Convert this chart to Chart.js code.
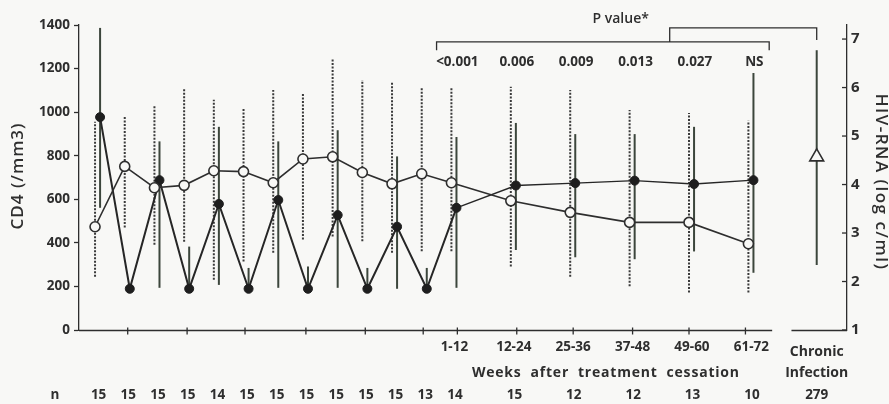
<!DOCTYPE html>
<html>
<head>
<meta charset="utf-8">
<script src="https://cdn.jsdelivr.net/npm/chart.js@4"></script>
<style>
  html, body { margin:0; padding:0; background:#f8f8f6; }
  #wrap { width:889px; height:404px; position:relative; }
</style>
</head>
<body>
<div id="wrap"><canvas id="chart" width="889" height="404"></canvas></div>
<script>
// visit index: 12 interruption cycles, then 6 post-cessation groups
const visits = [0,1,2,3,4,5,6,7,8,9,10,11,12,14,16,18,20,22];
const cd4Mean = [474,751,653,664,731,727,676,785,795,723,671,717,676,593,540,494,494,396];
const cd4Lo   = [245,470,391,405,231,314,355,415,429,407,355,361,361,292,245,201,172,172];
const cd4Hi   = [956,978,1029,1111,1057,1015,1102,1090,1249,1148,1140,1117,1117,1117,1102,1010,996,960];
const rnaMean = [5.39,1.85,4.09,1.85,3.60,1.85,3.68,1.85,3.37,1.85,3.13,1.85,3.52,3.98,4.03,4.08,4.01,4.09];
const rnaLo   = [3.52,1.85,1.87,1.85,1.93,1.85,1.87,1.85,1.87,1.85,1.85,1.85,1.87,2.65,2.50,2.46,2.62,2.18];
const rnaHi   = [7.23,1.85,4.89,2.72,5.19,2.28,4.89,2.31,5.12,2.28,4.58,2.28,4.98,5.27,5.04,5.04,5.19,6.30];
const chronicVisit = 24.3;
const chronicRna = [4.57, 2.34, 6.77]; // mean, lo, hi
const nCounts = [15,15,15,15,14,15,15,15,15,15,15,13,14,15,12,12,13,10];
const chronicN = 279;
const groupLabels = ['1-12','12-24','25-36','37-48','49-60','61-72'];
const pValues = ['<0.001','0.006','0.009','0.013','0.027','NS'];
const xTicks = [1.1,3.1,5.05,7.1,9.1,11.05,12.2,14.2,16.1,18.1,20,21.9];
const cd4Ticks = [0,200,400,600,800,1000,1200,1400];
const rnaTicks = [1,2,3,4,5,6,7];
const rnaShift = 0.17;

const ink = '#2e2e2e';
const FONT = '"Open Sans", "DejaVu Sans", sans-serif';

const extras = {
  id: 'extras',
  beforeDatasetsDraw(chart){
    const {ctx, scales:{x, y, y2}} = chart;
    ctx.save();
    // CD4 error bars (dashed)
    ctx.strokeStyle = '#3a3a3a'; ctx.lineWidth = 2; ctx.setLineDash([2,1.5]);
    visits.forEach((v,i) => {
      const px = x.getPixelForValue(v);
      ctx.beginPath(); ctx.moveTo(px, y.getPixelForValue(cd4Lo[i])); ctx.lineTo(px, y.getPixelForValue(cd4Hi[i])); ctx.stroke();
    });
    // HIV-RNA error bars (solid)
    ctx.setLineDash([]); ctx.strokeStyle = '#3c463c'; ctx.lineWidth = 2;
    visits.forEach((v,i) => {
      if (rnaHi[i] - rnaLo[i] < 0.05) return;
      const px = x.getPixelForValue(v + rnaShift);
      ctx.beginPath(); ctx.moveTo(px, y2.getPixelForValue(rnaLo[i])); ctx.lineTo(px, y2.getPixelForValue(rnaHi[i])); ctx.stroke();
    });
    const cx = x.getPixelForValue(chronicVisit);
    ctx.beginPath(); ctx.moveTo(cx, y2.getPixelForValue(chronicRna[1])); ctx.lineTo(cx, y2.getPixelForValue(chronicRna[2])); ctx.stroke();
    ctx.restore();
  },
  afterDraw(chart){
    const {ctx, chartArea:a, scales:{x, y, y2}} = chart;
    const cx = x.getPixelForValue(chronicVisit);
    ctx.save();
    ctx.strokeStyle = ink; ctx.lineWidth = 1.3;
    // broken x baseline
    const b = a.bottom + 0.5;
    ctx.beginPath();
    ctx.moveTo(a.left, b); ctx.lineTo(x.getPixelForValue(22.8), b);
    ctx.moveTo(x.getPixelForValue(23.45), b); ctx.lineTo(a.right, b);
    ctx.stroke();
    xTicks.forEach(t => {
      const px = x.getPixelForValue(t);
      ctx.beginPath(); ctx.moveTo(px, b - 3); ctx.lineTo(px, b + 4); ctx.stroke();
    });
    // right axis inward ticks
    rnaTicks.forEach(t => {
      const py = y2.getPixelForValue(t);
      ctx.beginPath(); ctx.moveTo(a.right - 5, py); ctx.lineTo(a.right, py); ctx.stroke();
    });
    // p-value brackets
    const yLow = y2.getPixelForValue(6.94), yTip = y2.getPixelForValue(6.77), yTop = y2.getPixelForValue(7.23);
    const bl = x.getPixelForValue(11.5), br = x.getPixelForValue(22.7), bm = x.getPixelForValue(19.35);
    ctx.beginPath();
    ctx.moveTo(bl, yTip); ctx.lineTo(bl, yLow); ctx.lineTo(br, yLow); ctx.lineTo(br, yTip);
    ctx.moveTo(bm, yLow); ctx.lineTo(bm, yTop); ctx.lineTo(cx, yTop); ctx.lineTo(cx, y2.getPixelForValue(6.98));
    ctx.stroke();

    ctx.fillStyle = ink; ctx.textAlign = 'center'; ctx.textBaseline = 'middle';
    ctx.font = '600 14px ' + FONT;
    ctx.fillText('P value*', x.getPixelForValue(17.7), 19);
    ctx.font = 'bold 13.5px ' + FONT;
    pValues.forEach((p,i) => ctx.fillText(p, x.getPixelForValue(visits[12+i] + 0.2), 62));
    groupLabels.forEach((g,i) => ctx.fillText(g, x.getPixelForValue(visits[12+i] + 0.1), 347));
    ctx.font = 'bold 14px ' + FONT;
    ctx.fillText('Chronic', cx, 352);
    ctx.fillText('Infection', cx, 373);
    ctx.letterSpacing = '0.8px';
    ctx.fillText('Weeks  after  treatment  cessation', x.getPixelForValue(17.2), 373);
    ctx.letterSpacing = '0px';
    ctx.font = 'bold 13.5px ' + FONT;
    ctx.fillText('n', 55, 395);
    nCounts.forEach((n,i) => ctx.fillText(String(n), x.getPixelForValue(visits[i] + 0.12), 395));
    ctx.fillText(String(chronicN), cx, 395);
    // axis titles
    ctx.font = '600 17px ' + FONT;
    ctx.letterSpacing = '1px';
    ctx.save(); ctx.translate(18, 176); ctx.rotate(-Math.PI/2); ctx.fillText('CD4 (/mm3)', 0, 0); ctx.restore();
    ctx.letterSpacing = '1.5px';
    ctx.save(); ctx.translate(881, 182); ctx.rotate(Math.PI/2); ctx.fillText('HIV-RNA (log c/ml)', 0, 0); ctx.restore();
    ctx.restore();
  }
};

new Chart(document.getElementById('chart'), {
  type: 'line',
  data: {
    datasets: [
      {
        label: 'CD4',
        data: visits.map((v,i) => ({x:v, y:cd4Mean[i]})),
        yAxisID: 'y',
        borderColor: ink, borderWidth: 1.6,
        pointRadius: 5, pointBorderWidth: 1.6,
        pointBackgroundColor: '#f8f8f6', pointBorderColor: ink,
        tension: 0
      },
      {
        label: 'HIV-RNA',
        data: visits.map((v,i) => ({x:v + rnaShift, y:rnaMean[i]})),
        yAxisID: 'y2',
        borderColor: '#262626', borderWidth: 2,
        segment: { borderWidth: c => c.p0DataIndex >= 12 ? 1.4 : 2 },
        pointRadius: 4.5, pointBorderWidth: 1,
        pointBackgroundColor: '#1e1e1e', pointBorderColor: '#1e1e1e',
        tension: 0
      },
      {
        label: 'Chronic',
        data: [{x: chronicVisit, y: chronicRna[0]}],
        yAxisID: 'y2',
        showLine: false,
        pointStyle: 'triangle', pointRadius: 8, pointBorderWidth: 1.6,
        pointBackgroundColor: '#f8f8f6', pointBorderColor: ink
      }
    ]
  },
  options: {
    responsive: false,
    animation: false,
    layout: { padding: { top: 25, bottom: 74, left: 0, right: 0 } },
    plugins: { legend: { display: false }, tooltip: { enabled: false } },
    scales: {
      x: { type: 'linear', min: -0.54, max: 25.32, display: false },
      y: {
        position: 'left', min: 0, max: 1400,
        afterBuildTicks: s => { s.ticks = cd4Ticks.map(v => ({value:v})); },
        afterFit: s => { s.width = 79; },
        grid: { drawOnChartArea: false, tickLength: 5, color: ink, tickWidth: 1.3 },
        border: { color: ink, width: 1.3 },
        ticks: { color: ink, padding: 4, callback: v => String(v), font: { family: FONT, size: 13.5, weight: 'bold' } }
      },
      y2: {
        position: 'right', min: 1, max: 7.29,
        afterBuildTicks: s => { s.ticks = rnaTicks.map(v => ({value:v})); },
        afterFit: s => { s.width = 42; },
        grid: { drawOnChartArea: false, drawTicks: false },
        border: { color: ink, width: 1.3 },
        ticks: { color: ink, padding: 4, font: { family: FONT, size: 15, weight: 'bold' } }
      }
    }
  },
  plugins: [extras]
});
</script>
</body>
</html>
